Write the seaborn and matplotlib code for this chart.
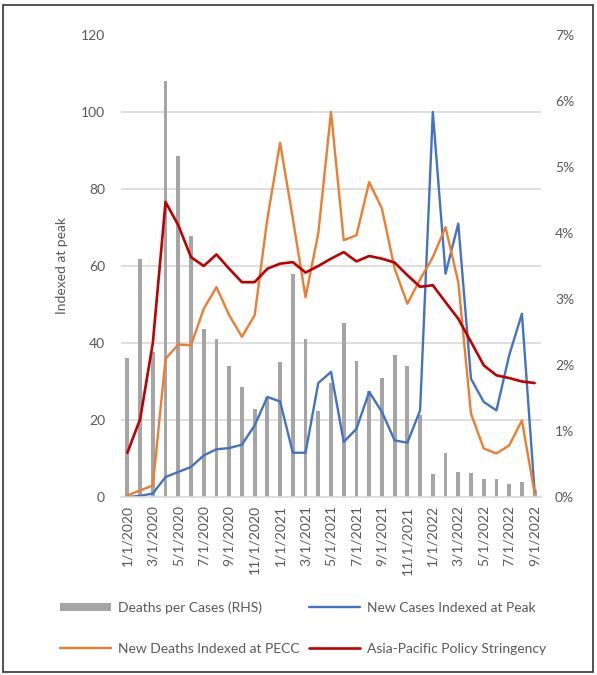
import numpy as np
import pandas as pd
import matplotlib
matplotlib.use("Agg")
import matplotlib.pyplot as plt
from matplotlib.patches import Rectangle
import seaborn as sns

# Monthly observations, Jan 2020 - Sep 2022
months = [f"{m}/1/{y}" for y in (2020, 2021, 2022) for m in range(1, 13)][:33]

deaths_per_cases = [2.10, 3.61, 2.20, 6.31, 5.17, 3.96, 2.55, 2.39, 1.98, 1.67,
                    1.33, 1.52, 2.05, 3.38, 2.39, 1.31, 1.72, 2.63, 2.06, 1.60,
                    1.80, 2.15, 1.98, 1.24, 0.35, 0.66, 0.38, 0.37, 0.27, 0.28,
                    0.19, 0.22, 0.10]
new_cases = [0.0, 0.3, 0.9, 5.2, 6.5, 7.8, 10.8, 12.4, 12.7, 13.6,
             18.6, 26.0, 24.8, 11.5, 11.5, 29.6, 32.5, 14.3, 17.7, 27.3,
             22.1, 14.7, 14.1, 22.5, 100.0, 58.0, 71.0, 30.7, 24.7, 22.5,
             36.8, 47.6, 1.3]
new_deaths = [0.4, 1.7, 3.0, 35.9, 39.6, 39.4, 48.9, 54.5, 47.2, 41.6,
              47.2, 72.3, 92.0, 72.3, 51.9, 68.5, 100.0, 66.7, 68.0, 81.8,
              74.9, 59.3, 50.2, 56.5, 62.3, 70.1, 55.8, 21.6, 12.6, 11.3,
              13.4, 19.9, 0.9]
stringency = [11.5, 20.2, 40.0, 76.6, 70.6, 62.3, 60.0, 63.0, 59.3, 55.8,
              55.8, 59.3, 60.6, 61.0, 58.3, 60.0, 61.9, 63.6, 61.2, 62.6,
              61.9, 60.9, 57.6, 54.6, 55.0, 50.6, 46.3, 40.3, 34.2, 31.6,
              30.9, 30.0, 29.6]

left_ticks = [0, 20, 40, 60, 80, 100, 120]
right_ticks = [0, 1, 2, 3, 4, 5, 6, 7]

df = pd.DataFrame({
    "month": months,
    "pos": np.arange(len(months)),
    "deaths_per_cases": deaths_per_cases,
    "new_cases": new_cases,
    "new_deaths": new_deaths,
    "stringency": stringency,
})

sns.set_style("white")
plt.rcParams["font.family"] = ["Lato", "DejaVu Sans"]
TEXT = "#595959"
FS = 10

fig = plt.figure(figsize=(5.97, 6.75), dpi=100)
ax = fig.add_axes([121 / 597, 1 - 497 / 675, 420 / 597, 462 / 675])
ax2 = ax.twinx()

# Bars on the right-hand (percentage) scale
sns.barplot(data=df, x="month", y="deaths_per_cases", ax=ax2, color="#A5A5A5",
            width=0.3, saturation=1, linewidth=0,
            label="Deaths per Cases (RHS)", zorder=2)

# Index lines on the left-hand scale
sns.lineplot(data=df, x="pos", y="new_cases", ax=ax, color="#4472C4", lw=1.7,
             label="New Cases Indexed at Peak")
sns.lineplot(data=df, x="pos", y="new_deaths", ax=ax, color="#ED7D31", lw=1.7,
             label="New Deaths Indexed at PECC")
sns.lineplot(data=df, x="pos", y="stringency", ax=ax, color="#C00000", lw=1.9,
             label="Asia-Pacific Policy Stringency")

ax.set_zorder(ax2.get_zorder() + 1)
ax.patch.set_visible(False)

ax.set_xlim(-0.5, len(months) - 0.5)
ax.set_ylim(0, 120)
ax2.set_ylim(0, 7)

ax.set_yticks(left_ticks)
ax.set_yticklabels([str(t) for t in left_ticks])
ax2.set_yticks(right_ticks)
ax2.set_yticklabels([f"{t}%" for t in right_ticks])

# Horizontal gridlines at the left-axis steps, drawn behind the bars
ax2.set_yticks(np.linspace(0, 7, len(left_ticks)), minor=True)
ax2.yaxis.grid(True, which="minor", color="#D9D9D9", lw=1.2)
ax2.yaxis.grid(False, which="major")
ax2.set_axisbelow(True)
ax.grid(False)

ax.set_xticks(df["pos"][::2])
ax.set_xticklabels(df["month"][::2], rotation=90)

ax.tick_params(axis="x", length=0, pad=6, labelsize=FS, labelcolor=TEXT)
ax.tick_params(axis="y", length=0, pad=11.5, labelsize=FS, labelcolor=TEXT)
ax2.tick_params(axis="y", which="both", length=0, pad=10, labelsize=FS,
                labelcolor=TEXT)

ax.set_xlabel("")
ax.set_ylabel("Indexed at peak", fontsize=FS, color=TEXT, labelpad=9)
ax2.set_ylabel("")

for a in (ax, ax2):
    for s in a.spines.values():
        s.set_visible(False)
ax.spines["bottom"].set_visible(True)
ax.spines["bottom"].set_color("#D9D9D9")
ax.spines["bottom"].set_linewidth(1.2)

# Legend: two rows, bar entry first
h1, l1 = ax2.get_legend_handles_labels()
h2, l2 = ax.get_legend_handles_labels()
for a in (ax, ax2):
    if a.get_legend():
        a.get_legend().remove()
handles = [h1[0], h2[1], h2[0], h2[2]]
labels = [l1[0], l2[1], l2[0], l2[2]]
leg = fig.legend(handles, labels, ncol=2, loc="upper left",
                 bbox_to_anchor=(60 / 597, 1 - 601 / 675), frameon=False,
                 fontsize=FS, handlelength=3.7, handleheight=0.5,
                 handletextpad=0.45, columnspacing=0.7, labelspacing=2.1,
                 borderpad=0, borderaxespad=0)
for t in leg.get_texts():
    t.set_color(TEXT)

# Outer frame
fig.patches.append(Rectangle((3 / 597, 3 / 675), 590 / 597, 667 / 675,
                             transform=fig.transFigure, fill=False,
                             edgecolor="#333333", lw=1.2))

fig.savefig("out.png", dpi=100)
